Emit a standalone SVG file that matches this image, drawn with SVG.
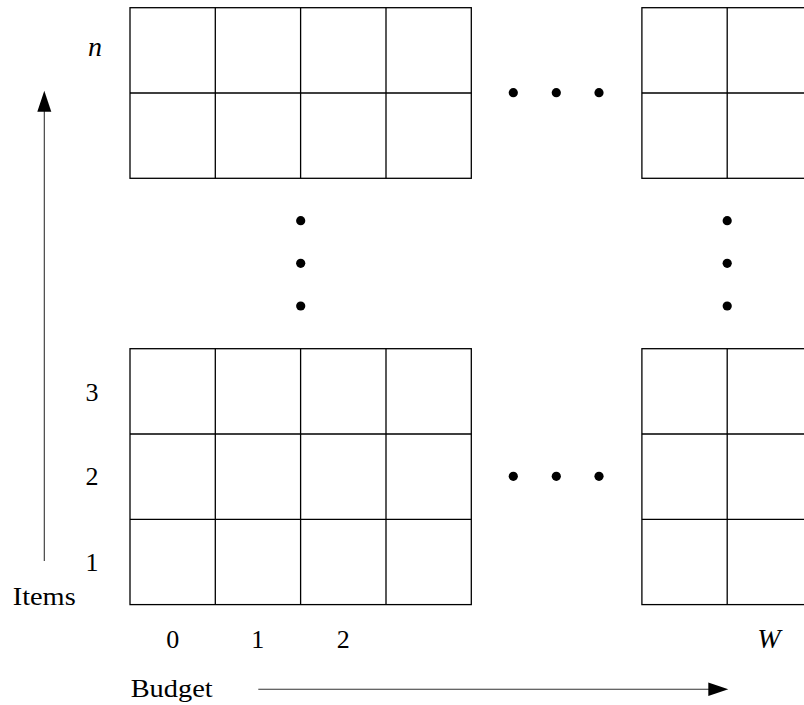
<svg xmlns="http://www.w3.org/2000/svg" width="804" height="705" viewBox="0 0 804 705">
<style>
.g{fill:none;stroke:#000;stroke-width:1.3}
.d{fill:#000}
.t{font-family:"Liberation Serif",serif;font-size:26px;fill:#000}
.i{font-style:italic;font-size:28px}
.ax{stroke:#333;stroke-width:1.1;fill:none}
</style>
<rect width="804" height="705" fill="#fff"/>
<g id="grid-top-left">
<rect class="g" x="130" y="7.7" width="341.3" height="170.6"/>
<path class="g" d="M130 93H471.3M215.3 7.7V178.3M300.6 7.7V178.3M386 7.7V178.3"/>
</g>
<g id="grid-top-right">
<rect class="g" x="641.9" y="7.7" width="170.6" height="170.6"/>
<path class="g" d="M641.9 93H812.5M727.2 7.7V178.3"/>
</g>
<g id="grid-bottom-left">
<rect class="g" x="130" y="348.7" width="341.3" height="255.9"/>
<path class="g" d="M130 434H471.3M130 519.3H471.3M215.3 348.7V604.6M300.6 348.7V604.6M386 348.7V604.6"/>
</g>
<g id="grid-bottom-right">
<rect class="g" x="641.9" y="348.7" width="170.6" height="255.9"/>
<path class="g" d="M641.9 434H812.5M641.9 519.3H812.5M727.2 348.7V604.6"/>
</g>
<g id="dots-top">
<circle class="d" cx="513.3" cy="92.7" r="4.6"/><circle class="d" cx="556.3" cy="92.7" r="4.6"/><circle class="d" cx="599" cy="92.7" r="4.6"/>
</g>
<g id="dots-bottom">
<circle class="d" cx="513.3" cy="476.3" r="4.6"/><circle class="d" cx="556.3" cy="476.3" r="4.6"/><circle class="d" cx="599" cy="476.3" r="4.6"/>
</g>
<g id="dots-left">
<circle class="d" cx="300.7" cy="220.7" r="4.6"/><circle class="d" cx="300.7" cy="263.3" r="4.6"/><circle class="d" cx="300.7" cy="306" r="4.6"/>
</g>
<g id="dots-right">
<circle class="d" cx="727.2" cy="220.7" r="4.6"/><circle class="d" cx="727.2" cy="263.3" r="4.6"/><circle class="d" cx="727.2" cy="306" r="4.6"/>
</g>
<g id="labels">
<text class="t i" x="95" y="56" text-anchor="middle">n</text>
<text class="t" x="92" y="400.5" text-anchor="middle">3</text>
<text class="t" x="92" y="484.5" text-anchor="middle">2</text>
<text class="t" x="92" y="570.5" text-anchor="middle">1</text>
<text class="t" x="12.7" y="605" textLength="63" lengthAdjust="spacingAndGlyphs">Items</text>
<text class="t" x="172.7" y="648" text-anchor="middle">0</text>
<text class="t" x="257.7" y="648" text-anchor="middle">1</text>
<text class="t" x="343.3" y="648" text-anchor="middle">2</text>
<text class="t i" x="769" y="648" text-anchor="middle">W</text>
<text class="t" x="130.7" y="697" textLength="82" lengthAdjust="spacingAndGlyphs">Budget</text>
</g>
<g id="connectors">
<path class="ax" d="M44.3 561V110"/>
<polygon class="d" points="44.3,90.7 37.3,111.7 51.3,111.7"/>
<path class="ax" d="M258.3 689.3H710"/>
<polygon class="d" points="728.3,689.3 708.3,682.6 708.3,696"/>
</g>
</svg>
